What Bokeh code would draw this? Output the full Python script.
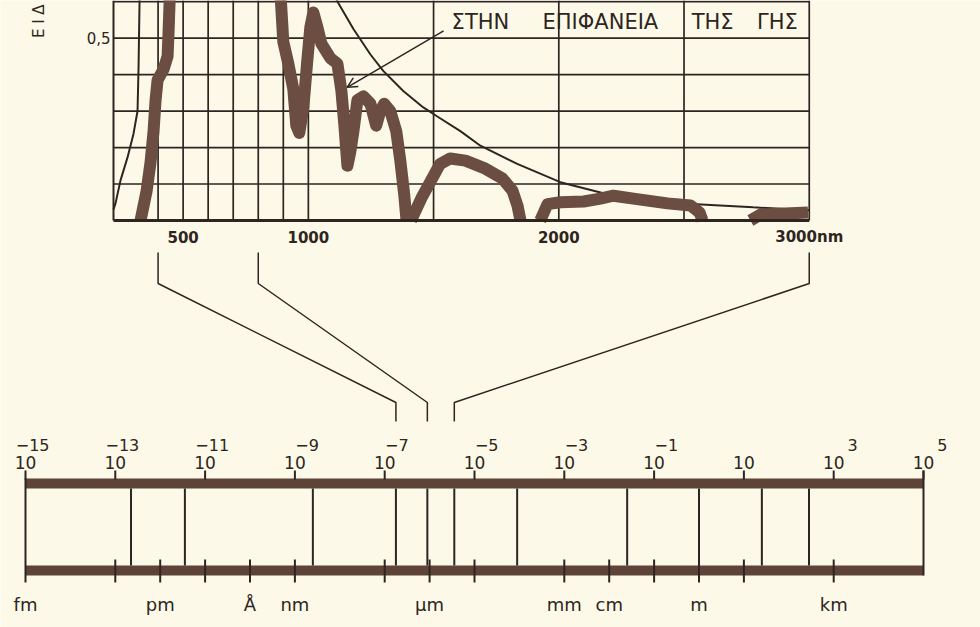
import math

from bokeh.core.properties import value
from bokeh.embed import file_html
from bokeh.models import Arrow, OpenHead, Range1d
from bokeh.plotting import figure
from bokeh.resources import INLINE

# ---------------------------------------------------------------------------
# Solar spectral irradiance (W m^-2 nm^-1) against wavelength (nm)
# ---------------------------------------------------------------------------

# outside the atmosphere (thin curve), short-wave rise and long-wave tail
extra_uv_nm = [222, 230, 250, 278, 302, 318, 322, 326, 327]
extra_uv_val = [0.03, 0.047, 0.11, 0.173, 0.238, 0.30, 0.42, 0.60, 0.65]
extra_ir_nm = [1100, 1116, 1180, 1248, 1299, 1379, 1459, 1515, 1607, 1687,
               1834, 2006, 2194, 2365, 2513, 2776, 3000]
extra_ir_val = [0.625, 0.60, 0.525, 0.455, 0.41, 0.355, 0.31, 0.285, 0.245,
                0.205, 0.155, 0.105, 0.072, 0.055, 0.046, 0.036, 0.028]

# at the Earth's surface (thick curve), one piece per atmospheric window
surface_uv_vis_nm = [330, 354, 370, 382, 390, 398, 422, 438, 442, 446, 447]
surface_uv_vis_val = [0.0, 0.08, 0.16, 0.245, 0.33, 0.385, 0.415, 0.45, 0.52,
                      0.60, 0.66]
surface_nir1_nm = [888, 900, 920, 940, 952, 964, 980, 996, 1008, 1020, 1036,
                   1052, 1088, 1116, 1132, 1144, 1156, 1168, 1180, 1196, 1220,
                   1248, 1271, 1287, 1303, 1327, 1351, 1367, 1383, 1392]
surface_nir1_val = [0.63, 0.49, 0.43, 0.36, 0.26, 0.24, 0.31, 0.44, 0.53, 0.57,
                    0.53, 0.485, 0.445, 0.43, 0.355, 0.26, 0.15, 0.19, 0.245,
                    0.33, 0.34, 0.32, 0.26, 0.30, 0.32, 0.30, 0.245, 0.165,
                    0.07, 0.0]
surface_nir2_nm = [1410, 1454, 1494, 1526, 1566, 1627, 1707, 1775, 1815, 1835,
                   1847]
surface_nir2_val = [0.0, 0.065, 0.115, 0.155, 0.17, 0.164, 0.142, 0.115, 0.082,
                    0.041, 0.0]
surface_nir3_nm = [1926, 1955, 2007, 2099, 2166, 2218, 2298, 2434, 2526, 2562,
                   2574]
surface_nir3_val = [0.0, 0.045, 0.05, 0.052, 0.06, 0.068, 0.06, 0.047, 0.041,
                    0.022, 0.0]
surface_nir4_nm = [2765, 2805, 2905, 2995]
surface_nir4_val = [0.0, 0.016, 0.019, 0.022]

grid_nm = [400, 500, 600, 700, 800, 900, 1000, 1500, 2000, 2500, 3000]
grid_val = [0.1, 0.2, 0.3, 0.4, 0.5, 0.6]
tick_nm = [500, 1000, 2000, 3000]
tick_nm_labels = ["500", "1000", "2000", "3000nm"]
tick_val = [0.5]
tick_val_labels = ["0,5"]

caption_words = ["ΣΤΗΝ", "ΕΠΙΦΑΝΕΙΑ", "ΤΗΣ", "ΓΗΣ"]
caption_word_nm = [1687, 2166, 2614, 2873]
y_title = "Ε Ι Δ"

# ---------------------------------------------------------------------------
# Electromagnetic spectrum scale, log10 of wavelength in metres
# ---------------------------------------------------------------------------
decade_exps = [-15, -13, -11, -9, -7, -5, -3, -1, 1, 3, 5]
decade_sup = ["−15", "−13", "−11", "−9", "−7", "−5", "−3", "−1", "", "3", "5"]
band_edges = [-12.65, -11.45, -8.6, -6.75, -6.05, -5.45, -4.05, -1.6, 0.0,
              1.4, 2.45]
lower_ticks = [-13, -12, -11, -10, -9, -7, -6, -5, -3, -2, -1, 0, 1, 3]
unit_exps = [-15, -12, -10, -9, -6, -3, -2, 0, 3]
unit_names = ["fm", "pm", "Å", "nm", "μm", "mm", "cm", "m", "km"]

# the part of the spectrum that the upper chart spreads out
leader_nm = [400, 800, 3000]
leader_band = [-6.75, -6.05, -5.45]

# ---------------------------------------------------------------------------
# styling and layout
# ---------------------------------------------------------------------------
BG = "#fcf9e8"
INK = "#2e2520"
BROWN = "#6c4d42"
BAR = "#5e4338"
FONT = "DejaVu Sans"

W, H = 980, 627
# upper chart frame, in page pixels
FRAME_L, FRAME_R, FRAME_B = 113, 810, 220
NM_START, NM_END = 222, 3005
VAL_TOP = 0.603
NM_PER_PX = (NM_END - NM_START) / (FRAME_R - FRAME_L)
VAL_PER_PX = VAL_TOP / FRAME_B
# spectrum scale
PX_PER_DEC = 44.9
LOG_START = -15 - 25 / PX_PER_DEC
LOG_END = LOG_START + W / PX_PER_DEC

# rows of the spectrum scale, in page pixels from the top
BAR_ROWS_TOP = [478, 565]
BAR_ROWS_BOTTOM = [488, 575]
TOP_TICK = (470, 479)
LOW_TICK = (559, 582)
ROW_TEN, ROW_SUP, ROW_UNIT = 462, 444, 604
LEADER_ROWS = [252, 283, 402, 421]
ROW_NM_LABELS = 236

# the page: x in nm on the upper chart's scale, y in page pixels
p = figure(width=W, height=H,
           x_range=Range1d(NM_START - FRAME_L * NM_PER_PX,
                           NM_START + (W - FRAME_L) * NM_PER_PX),
           y_range=Range1d(H, 0),
           output_backend="svg", toolbar_location=None,
           x_axis_location=None, y_axis_location=None, min_border=0)
p.extra_y_ranges = {"irr": Range1d(-(H - FRAME_B) * VAL_PER_PX, VAL_TOP)}
p.extra_x_ranges = {"log": Range1d(LOG_START, LOG_END)}
p.background_fill_color = BG
p.border_fill_color = BG
p.outline_line_color = None
p.grid.visible = False


def log_to_nm(lx):
    """Map a position on the spectrum scale onto the page's nm coordinate."""
    px = (lx - LOG_START) * PX_PER_DEC
    return NM_START + (px - FRAME_L) * NM_PER_PX


# ---------------------------- upper chart ----------------------------------
grid_top = [VAL_TOP] * len(grid_nm)
p.segment(x0=grid_nm, y0=[0] * len(grid_nm), x1=grid_nm, y1=grid_top,
          y_range_name="irr", line_width=1.7, line_color=INK)
p.segment(x0=[NM_START] * len(grid_val), y0=grid_val,
          x1=[grid_nm[-1]] * len(grid_val), y1=grid_val,
          y_range_name="irr", line_width=1.7, line_color=INK)
p.segment(x0=[NM_START], y0=[0], x1=[NM_START], y1=[VAL_TOP],
          y_range_name="irr", line_width=2, line_color=INK)

for xs, ys in [(extra_uv_nm, extra_uv_val), (extra_ir_nm, extra_ir_val)]:
    p.line(xs, ys, y_range_name="irr", line_width=2, line_color=INK)

for xs, ys in [(surface_uv_vis_nm, surface_uv_vis_val),
               (surface_nir1_nm, surface_nir1_val),
               (surface_nir2_nm, surface_nir2_val),
               (surface_nir3_nm, surface_nir3_val),
               (surface_nir4_nm, surface_nir4_val)]:
    p.line(xs, ys, y_range_name="irr", line_width=12, line_color=BROWN,
           line_cap="butt", line_join="round")

# wavelength axis
p.segment(x0=[NM_START], y0=[0], x1=[grid_nm[-1]], y1=[0],
          y_range_name="irr", line_width=3, line_color=INK)
p.text(x=tick_nm, y=[ROW_NM_LABELS] * len(tick_nm), text=tick_nm_labels,
       text_align="center", text_baseline="middle", text_font=value(FONT),
       text_font_size="15px", text_font_style="bold", text_color=INK)
p.text(x=[NM_START] * len(tick_val), y=tick_val, text=tick_val_labels,
       y_range_name="irr", x_offset=-3, text_align="right",
       text_baseline="middle", text_font=value(FONT),
       text_font_size="15px", text_color=INK)
p.text(x=[NM_START], y=tick_val, text=[y_title], y_range_name="irr",
       x_offset=-75, angle=math.pi / 2, text_align="left",
       text_baseline="middle", text_font=value(FONT),
       text_font_size="15px", text_color=INK)

p.text(x=caption_word_nm, y=[0.543] * len(caption_words), text=caption_words,
       y_range_name="irr", text_align="center", text_baseline="middle",
       text_font=value(FONT), text_font_size="21px", text_color=INK)
p.add_layout(Arrow(end=OpenHead(size=10, line_width=1.5, line_color=INK),
                   x_start=1540, y_start=0.52, x_end=1155, y_end=0.365,
                   y_range_name="irr", line_width=1.5, line_color=INK))

# ---------------------------- spectrum scale -------------------------------
lo, hi = decade_exps[0], decade_exps[-1]
p.quad(left=[lo, lo], right=[hi, hi], top=BAR_ROWS_TOP,
       bottom=BAR_ROWS_BOTTOM, x_range_name="log",
       fill_color=BAR, line_color=None)
p.segment(x0=band_edges, y0=[BAR_ROWS_BOTTOM[0]] * len(band_edges),
          x1=band_edges, y1=[BAR_ROWS_TOP[1]] * len(band_edges),
          x_range_name="log", line_width=2, line_color=INK)
p.segment(x0=[lo, hi], y0=[BAR_ROWS_TOP[0], TOP_TICK[0]],
          x1=[lo, hi], y1=[LOW_TICK[1], BAR_ROWS_BOTTOM[1]],
          x_range_name="log", line_width=2, line_color=INK)
p.segment(x0=decade_exps, y0=[TOP_TICK[0]] * len(decade_exps),
          x1=decade_exps, y1=[TOP_TICK[1]] * len(decade_exps),
          x_range_name="log", line_width=2, line_color=INK)
p.segment(x0=lower_ticks, y0=[LOW_TICK[0]] * len(lower_ticks),
          x1=lower_ticks, y1=[LOW_TICK[1]] * len(lower_ticks),
          x_range_name="log", line_width=2, line_color=INK)

p.text(x=decade_exps, y=[ROW_TEN] * len(decade_exps),
       text=["10"] * len(decade_exps), x_range_name="log",
       text_align="center", text_baseline="middle", text_font=value(FONT),
       text_font_size="17px", text_color=INK)
p.text(x=decade_exps, y=[ROW_SUP] * len(decade_exps), text=decade_sup,
       x_range_name="log", x_offset=24, text_align="right",
       text_baseline="middle", text_font=value(FONT),
       text_font_size="16px", text_color=INK)
p.text(x=unit_exps, y=[ROW_UNIT] * len(unit_exps), text=unit_names,
       x_range_name="log", text_align="center", text_baseline="middle",
       text_font=value(FONT), text_font_size="18px", text_color=INK)

# leader lines from the upper wavelength axis down to the spectrum bands
leader_xs = []
for nm, edge in zip(leader_nm, leader_band):
    band_x = log_to_nm(edge)
    leader_xs.append([nm, nm, band_x, band_x])
p.multi_line(leader_xs, [LEADER_ROWS] * len(leader_xs),
             line_width=1.5, line_color=INK)

open("out.html", "w").write(file_html(p, INLINE))
